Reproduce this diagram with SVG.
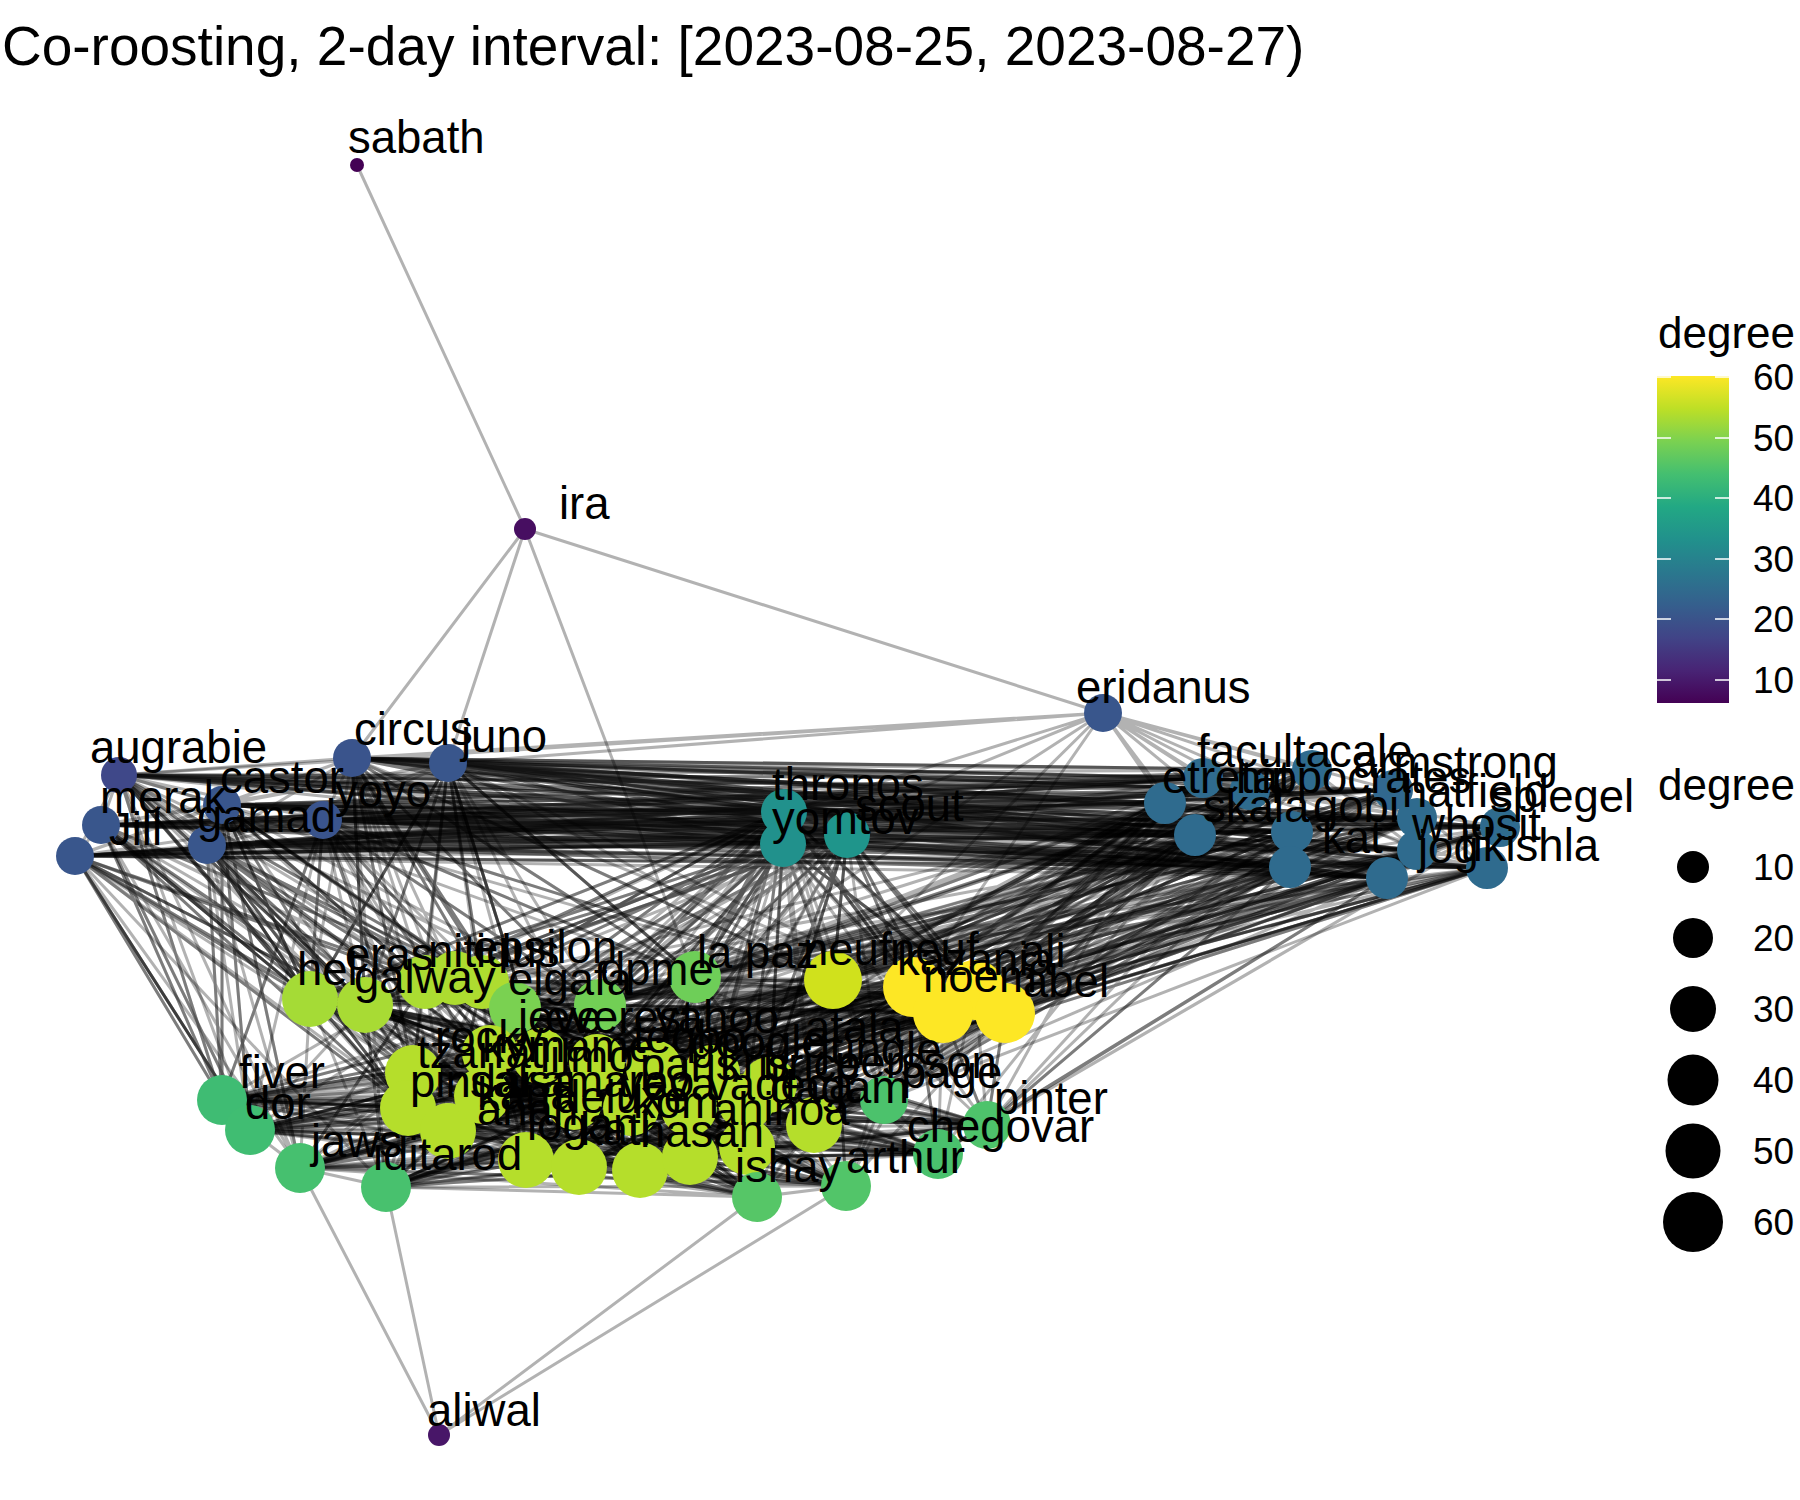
<svg xmlns="http://www.w3.org/2000/svg" width="1800" height="1500" viewBox="0 0 1800 1500">
<defs>
<style>
.e{fill:none;stroke:#000;stroke-opacity:0.3;stroke-width:3;stroke-linejoin:round;stroke-linecap:round}
.l{font-family:"Liberation Sans",Arial,sans-serif;font-size:45.5px;fill:#000}
.t{font-family:"Liberation Sans",Arial,sans-serif;font-size:55px;fill:#000}
.lg{font-family:"Liberation Sans",Arial,sans-serif;font-size:37px;fill:#000}
.lt{font-family:"Liberation Sans",Arial,sans-serif;font-size:44px;fill:#000}
.tick{stroke:#fff;stroke-width:1.6}
</style>
<linearGradient id="vir" x1="0" y1="1" x2="0" y2="0">
<stop offset="0" stop-color="#440154"/><stop offset="0.1" stop-color="#482475"/><stop offset="0.2" stop-color="#414487"/><stop offset="0.3" stop-color="#355F8D"/><stop offset="0.4" stop-color="#2A788E"/><stop offset="0.5" stop-color="#21918C"/><stop offset="0.6" stop-color="#22A884"/><stop offset="0.7" stop-color="#44BF70"/><stop offset="0.8" stop-color="#7AD151"/><stop offset="0.9" stop-color="#BDDF26"/><stop offset="1" stop-color="#FDE725"/>
</linearGradient>
</defs>
<rect width="1800" height="1500" fill="#fff"/>
<text class="t" x="2" y="65">Co-roosting, 2-day interval: [2023-08-25, 2023-08-27)</text>
<g id="connectors">
<path class="e" d="M525 529L357 165M525 529L352 758M525 529L448 763M525 529L695 977"/>
<path class="e" d="M439 1435L300 1168M439 1435L386 1187M439 1435L757 1197M439 1435L846 1186"/>
<path class="e" d="M1103 713L525 529M1103 713L352 758M1103 713L448 763M1103 713L119 775M1103 713L1203 778M1103 713L1165 803M1103 713L1195 835M1103 713L1312 770M1103 713L1250 790M1103 713L1292 832M1103 713L1290 867M1103 713L1393 790M1103 713L1417 818M1103 713L1417 850M1103 713L784 812M1103 713L783 844M1103 713L695 977M1103 713L833 980M1103 713L913 987"/>
<path class="e" d="M310 999L1005 1013 222 1100 833 980 526 1160 913 987 250 1130 695 977 640 1170 943 1013 300 1168 975 990 386 1187 987 1125 413 1073 938 1154 408 1108 846 1186 448 1131 757 1197 365 1005 884 1100 482 1096 814 1125 425 982 747 1147 482 982 690 1157 515 1008 579 1167 600 1005 769 1085 490 1053 746 1102 540 1056 689 1108 597 1062 631 1108 654 1068 574 1102 712 1073"/>
<path class="e" d="M222 1100L913 987 408 1108 833 980 300 1168 975 990 448 1131 943 1013 386 1187 1005 1013 526 1160 695 977 579 1167 987 1125 310 999 938 1154 365 1005 846 1186 425 982 757 1197 482 982 884 1100 515 1008 814 1125 600 1005 747 1147 540 1056 690 1157 490 1053 640 1170 413 1073 769 1085 482 1096 712 1073 597 1062 746 1102 654 1068 689 1108 574 1102 631 1108"/>
<path class="e" d="M250 1130L833 980 413 1073 1005 1013 482 1096 943 1013 579 1167 913 987 690 1157 975 990 310 999 814 1125 365 1005 747 1147 425 982 769 1085 482 982 712 1073 515 1008 746 1102 600 1005 987 1125 222 1100 938 1154 300 1168 846 1186 386 1187 884 1100 408 1108 757 1197 448 1131 695 977 526 1160 654 1068 640 1170 540 1056 574 1102 597 1062 689 1108 490 1053 631 1108"/>
<path class="e" d="M300 1168L833 980 386 1187 913 987 448 1131 943 1013 526 1160 975 990 579 1167 1005 1013 640 1170 987 1125 690 1157 938 1154 747 1147 846 1186 408 1108 757 1197 413 1073 884 1100 222 1100 814 1125 250 1130 769 1085 310 999 746 1102 365 1005 712 1073 425 982 689 1108 482 982 631 1108 515 1008 574 1102 600 1005 597 1062 695 977 654 1068 540 1056 490 1053 482 1096"/>
<path class="e" d="M310 999L526 1160 365 1005 579 1167 425 982 640 1170 482 982 690 1157 515 1008 747 1147 600 1005 814 1125 695 977 222 1100 833 980 250 1130 913 987 300 1168 943 1013 386 1187 975 990 413 1073 1005 1013 408 1108 987 1125 448 1131 938 1154 482 1096 846 1186 490 1053 757 1197 540 1056 884 1100 597 1062 574 1102 654 1068 631 1108 712 1073 689 1108 769 1085 746 1102"/>
<path class="e" d="M222 1100L540 1056 250 1130 597 1062 300 1168 654 1068 386 1187 712 1073 413 1073 769 1085 408 1108 746 1102 448 1131 689 1108 482 1096 631 1108 490 1053 574 1102 310 999 757 1197 365 1005 846 1186 425 982 938 1154 482 982 987 1125 515 1008 884 1100 600 1005 1005 1013 695 977 975 990 833 980 943 1013 526 1160 913 987 579 1167 814 1125 640 1170 747 1147 690 1157"/>
<path class="e" d="M386 1187L757 1197 300 1168 846 1186 250 1130 938 1154 222 1100 987 1125 408 1108 884 1100 448 1131 814 1125 526 1160 747 1147 579 1167 690 1157 640 1170 746 1102 482 1096 769 1085 413 1073 712 1073 490 1053 654 1068 540 1056 689 1108 597 1062 631 1108 574 1102 913 987 310 999 943 1013 365 1005 975 990 425 982 1005 1013 482 982 833 980 515 1008 695 977 600 1005"/>
<path class="e" d="M222 1100L757 1197 250 1130 747 1147 300 1168 690 1157 386 1187 640 1170 408 1108 579 1167 448 1131 846 1186 526 1160 938 1154 482 1096 987 1125 413 1073 884 1100 310 999 814 1125 365 1005 769 1085 425 982 746 1102 482 982 712 1073 515 1008 689 1108 600 1005 654 1068 695 977 631 1108 833 980 574 1102 913 987 597 1062 943 1013 540 1056 975 990 490 1053 1005 1013"/>
<path class="e" d="M913 987L222 1100 943 1013 250 1130 975 990 300 1168 1005 1013 386 1187 833 980 408 1108 695 977 448 1131 600 1005 526 1160 515 1008 579 1167 482 982 640 1170 425 982 690 1157 365 1005 747 1147 310 999 814 1125 413 1073 884 1100 482 1096 987 1125 490 1053 938 1154 540 1056 846 1186 597 1062 757 1197 654 1068 574 1102 712 1073 631 1108 769 1085 689 1108 746 1102"/>
<path class="e" d="M365 1005L386 1187 310 999 300 1168 425 982 448 1131 482 982 526 1160 515 1008 640 1170 600 1005 747 1147 695 977 757 1197 833 980 846 1186 913 987 938 1154 943 1013 987 1125 975 990 884 1100 1005 1013 814 1125 540 1056 408 1108 597 1062 413 1073 654 1068 222 1100 712 1073 250 1130 769 1085 482 1096 574 1102 490 1053 631 1108 579 1167 689 1108 690 1157 746 1102"/>
<path class="e" d="M310 999L365 1005 425 982 482 982 515 1008 600 1005 695 977 833 980 913 987 975 990 943 1013 1005 1013 987 1125 938 1154 884 1100 846 1186 757 1197 747 1147 690 1157 640 1170 579 1167 526 1160 448 1131 386 1187 300 1168 250 1130 222 1100 408 1108 413 1073 482 1096 490 1053 540 1056 597 1062 654 1068 712 1073 769 1085 814 1125 746 1102 689 1108 631 1108 574 1102"/>
<path class="e" d="M413 1073L975 990 408 1108 913 987 448 1131 833 980 482 1096 695 977 526 1160 600 1005 490 1053 515 1008 540 1056 482 982 597 1062 425 982 654 1068 365 1005 712 1073 310 999 769 1085 222 1100 746 1102 250 1130 689 1108 300 1168 631 1108 386 1187 574 1102 757 1197 579 1167 846 1186 640 1170 938 1154 690 1157 987 1125 747 1147 884 1100 814 1125 1005 1013 943 1013"/>
<path class="e" d="M310 999L600 1005 975 990 482 1096 747 1147 712 1073 746 1102 386 1187 884 1100 515 1008 943 1013 448 1131 690 1157 654 1068 689 1108 300 1168 987 1125 482 982 913 987 408 1108 640 1170 597 1062 631 1108 250 1130 938 1154 425 982 833 980 413 1073 579 1167 540 1056 574 1102 222 1100 846 1186 365 1005 695 977 1005 1013 526 1160 814 1125 769 1085 490 1053 757 1197"/>
<path class="e" d="M310 999L833 980 448 1131 814 1125 631 1108 386 1187 365 1005 913 987 482 1096 540 1056 689 1108 757 1197 425 982 943 1013 526 1160 597 1062 746 1102 846 1186 482 982 975 990 579 1167 654 1068 490 1053 938 1154 515 1008 1005 1013 640 1170 712 1073 222 1100 987 1125 600 1005 413 1073 690 1157 769 1085 250 1130 884 1100 695 977 408 1108 747 1147 574 1102 300 1168"/>
<path class="e" d="M310 999L943 1013 640 1170 574 1102 757 1197 515 1008 408 1108 540 1056 490 1053 884 1100 913 987 579 1167 769 1085 386 1187 482 982 413 1073 814 1125 746 1102 987 1125 833 980 526 1160 712 1073 300 1168 425 982 1005 1013 747 1147 689 1108 938 1154 695 977 482 1096 654 1068 250 1130 365 1005 975 990 690 1157 631 1108 846 1186 600 1005 448 1131 597 1062 222 1100"/>
<path class="e" d="M310 999L1005 1013 540 1056 250 1130 482 982 448 1131 712 1073 757 1197 695 977 579 1167 631 1108 987 1125 943 1013 747 1147 490 1053 365 1005 413 1073 597 1062 300 1168 515 1008 482 1096 769 1085 846 1186 833 980 640 1170 689 1108 884 1100 975 990 814 1125 222 1100 425 982 408 1108 654 1068 386 1187 600 1005 526 1160 574 1102 938 1154 913 987 690 1157 746 1102"/>
<path class="e" d="M310 999L408 1108 769 1085 987 1125 1005 1013 654 1068 846 1186 943 1013 540 1056 386 1187 833 980 747 1147 250 1130 600 1005 640 1170 490 1053 482 982 526 1160 689 1108 365 1005 448 1131 574 1102 884 1100 413 1073 712 1073 938 1154 975 990 597 1062 757 1197 913 987 814 1125 300 1168 695 977 690 1157 222 1100 515 1008 579 1167 746 1102 425 982 482 1096 631 1108"/>
<path class="e" d="M310 999L482 1096 746 1102 515 1008 690 1157 300 1168 913 987 597 1062 938 1154 413 1073 574 1102 365 1005 526 1160 490 1053 600 1005 747 1147 386 1187 943 1013 654 1068 987 1125 408 1108 631 1108 425 982 579 1167 222 1100 695 977 814 1125 757 1197 975 990 712 1073 884 1100 448 1131 689 1108 482 982 640 1170 250 1130 833 980 540 1056 846 1186 1005 1013 769 1085"/>
<path class="e" d="M310 999L579 1167 300 1168 975 990 574 1102 482 982 747 1147 846 1186 408 1108 746 1102 695 977 597 1062 884 1100 526 1160 250 1130 943 1013 769 1085 425 982 690 1157 757 1197 413 1073 689 1108 600 1005 540 1056 987 1125 482 1096 222 1100 913 987 712 1073 365 1005 640 1170 386 1187 1005 1013 631 1108 515 1008 814 1125 938 1154 448 1131 490 1053 833 980 654 1068"/>
<path class="e" d="M310 999L690 1157 938 1154 526 1160 386 1187 408 1108 222 1100 975 990 689 1108 833 980 769 1085 515 1008 597 1062 365 1005 747 1147 987 1125 579 1167 757 1197 448 1131 250 1130 1005 1013 746 1102 913 987 574 1102 600 1005 654 1068 425 982 814 1125 884 1100 640 1170 846 1186 482 1096 300 1168 413 1073 490 1053 943 1013 631 1108 695 977 712 1073 482 982 540 1056"/>
<path class="e" d="M119 775L1203 778 101 825 1165 803 75 856 1195 835 222 805 1312 770 207 845 1250 790 352 758 1292 832 448 763 1290 867 323 820 1393 790 119 775 1417 818 101 825 1417 850 75 856 1387 878 222 805 1500 827 207 845 1487 868 352 758 784 812 448 763 783 844 323 820 847 835"/>
<path class="e" d="M75 856L1203 778 207 845 1165 803 323 820 1195 835 119 775 1312 770 352 758 1250 790 101 825 1292 832 448 763 1290 867 222 805 1393 790 75 856 1417 818 207 845 1417 850 323 820 1387 878 119 775 1500 827 352 758 1487 868 101 825 784 812 222 805 783 844 448 763 847 835"/>
<path class="e" d="M352 758L1165 803 119 775 1195 835 448 763 1203 778 101 825 1312 770 323 820 1292 832 75 856 1250 790 222 805 1290 867 207 845 1417 818 352 758 1393 790 119 775 1417 850 448 763 1387 878 101 825 1487 868 323 820 1500 827 75 856 784 812 222 805 847 835 207 845 783 844"/>
<path class="e" d="M323 820L1203 778 222 805 1165 803 448 763 1195 835 75 856 1292 832 119 775 1290 867 101 825 1312 770 352 758 1250 790 207 845 1393 790 323 820 1417 850 222 805 1417 818 448 763 1487 868 75 856 1500 827 119 775 1387 878 101 825 783 844 352 758 847 835 207 845 784 812"/>
<path class="e" d="M101 825L1195 835 207 845 1203 778 352 758 1165 803 448 763 1250 790 119 775 1292 832 323 820 1312 770 75 856 1290 867 222 805 1417 818 101 825 1393 790 207 845 1387 878 352 758 1417 850 448 763 1500 827 119 775 1487 868 323 820 784 812 75 856 783 844 222 805 847 835"/>
<path class="e" d="M448 763L1165 803 352 758 1195 835 323 820 1203 778 448 763 1292 832 352 758 1290 867 323 820 1250 790 448 763 1312 770 352 758 1393 790 323 820 1417 818 448 763 1417 850 352 758 1387 878 323 820 1500 827 448 763 1487 868 352 758 1203 778 323 820 1165 803"/>
<path class="e" d="M207 845L1165 803 222 805 1195 835 75 856 1203 778 101 825 1292 832 119 775 1290 867 207 845 1250 790 222 805 1312 770 75 856 1393 790 101 825 1417 818 119 775 1417 850 207 845 1387 878 222 805 1500 827 75 856 1487 868 101 825 1165 803 119 775 1195 835"/>
<path class="e" d="M222 805L1290 867 207 845 1292 832 323 820 1195 835 448 763 1165 803 352 758 1203 778 119 775 1250 790 101 825 1312 770 75 856 1393 790 207 845 1417 818 323 820 1417 850 448 763 1387 878 352 758 1500 827 222 805 1487 868 207 845 1195 835 323 820 1290 867"/>
<path class="e" d="M119 775L784 812 101 825 783 844 75 856 847 835 222 805 784 812 207 845 783 844 352 758 847 835 448 763 784 812 323 820 783 844 119 775 847 835 207 845 784 812 75 856 783 844 352 758 784 812"/>
<path class="e" d="M119 775L310 999 101 825 365 1005 75 856 222 1100 222 805 425 982 207 845 413 1073 352 758 482 982 448 763 515 1008 323 820 600 1005 119 775 408 1108 101 825 250 1130 75 856 300 1168 222 805 310 999 207 845 365 1005 352 758 695 977 448 763 833 980 323 820 490 1053 119 775 425 982"/>
<path class="e" d="M75 856L310 999 207 845 365 1005 323 820 425 982 448 763 482 982 352 758 515 1008 222 805 413 1073 101 825 222 1100 119 775 250 1130 75 856 408 1108 207 845 490 1053 323 820 540 1056 448 763 600 1005 352 758 695 977 222 805 310 999 101 825 482 982 119 775 482 1096 75 856 448 1131"/>
<path class="e" d="M222 805L222 1100 207 845 250 1130 323 820 310 999 448 763 365 1005 352 758 413 1073 119 775 482 982 101 825 425 982 75 856 515 1008 222 805 408 1108 207 845 310 999 323 820 540 1056 448 763 913 987 352 758 833 980 119 775 597 1062 101 825 482 1096 75 856 365 1005 207 845 425 982"/>
<path class="e" d="M101 825L310 999 119 775 365 1005 75 856 425 982 222 805 482 982 207 845 515 1008 352 758 310 999 448 763 413 1073 323 820 222 1100 101 825 490 1053 119 775 408 1108 75 856 250 1130 222 805 300 1168 207 845 482 1096 352 758 540 1056 448 763 695 977 323 820 600 1005"/>
<path class="e" d="M323 820L310 999 448 763 365 1005 352 758 425 982 222 805 482 982 207 845 515 1008 75 856 310 999 101 825 365 1005 119 775 222 1100 323 820 413 1073 448 763 490 1053 352 758 600 1005 222 805 408 1108 207 845 222 1100 75 856 250 1130 101 825 300 1168 119 775 310 999"/>
<path class="e" d="M448 763L695 977 323 820 833 980 352 758 540 1056 448 763 597 1062 222 805 490 1053 207 845 482 1096 323 820 448 1131 352 758 386 1187 75 856 413 1073 101 825 408 1108 119 775 365 1005 207 845 310 999 222 805 250 1130"/>
<path class="e" d="M1203 778L833 980 1165 803 913 987 1195 835 943 1013 1312 770 975 990 1250 790 1005 1013 1292 832 695 977 1290 867 600 1005 1393 790 833 980 1417 818 913 987 1417 850 943 1013 1387 878 975 990 1500 827 1005 1013 1487 868 833 980 1203 778 769 1085 1165 803 712 1073 1195 835 654 1068"/>
<path class="e" d="M1165 803L833 980 1195 835 695 977 1292 832 913 987 1290 867 975 990 1387 878 1005 1013 1487 868 943 1013 1417 850 833 980 1417 818 913 987 1393 790 975 990 1312 770 943 1013 1203 778 1005 1013 1250 790 695 977 1165 803 746 1102 1195 835 814 1125 1292 832 884 1100 1290 867 987 1125 1387 878 938 1154"/>
<path class="e" d="M1195 835L833 980 1290 867 943 1013 1387 878 913 987 1417 850 1005 1013 1487 868 975 990 1500 827 833 980 1417 818 695 977 1393 790 600 1005 1312 770 597 1062 1250 790 482 982 1292 832 515 1008 1165 803 654 1068 1203 778 712 1073 1195 835 769 1085 1290 867 814 1125 1387 878 746 1102 1487 868 884 1100"/>
<path class="e" d="M1292 832L913 987 1165 803 975 990 1203 778 833 980 1195 835 1005 1013 1290 867 943 1013 1387 878 695 977 1417 850 712 1073 1487 868 769 1085 1417 818 913 987 1393 790 833 980 1312 770 975 990 1500 827 943 1013 1250 790 600 1005 1292 832 654 1068 1165 803 689 1108 1195 835 597 1062 1290 867 987 1125"/>
<path class="e" d="M1487 868L913 987 1500 827 975 990 1417 850 1005 1013 1417 818 943 1013 1393 790 833 980 1312 770 695 977 1292 832 913 987 1290 867 943 1013 1387 878 1005 1013 1195 835 975 990 1165 803 833 980 1203 778 913 987 1250 790 943 1013 1487 868 695 977 1387 878 833 980 1417 850 975 990"/>
<path class="e" d="M1290 867L884 1100 1292 832 987 1125 1387 878 938 1154 1195 835 814 1125 1165 803 769 1085 1203 778 746 1102 1250 790 712 1073 1312 770 654 1068 1393 790 597 1062 1417 818 600 1005 1417 850 515 1008 1487 868 482 982 1500 827 689 1108 1195 835 884 1100 1165 803 987 1125"/>
<path class="e" d="M1165 803L943 1013 1195 835 913 987 1292 832 975 990 1290 867 1005 1013 1387 878 833 980 1417 850 913 987 1487 868 943 1013 1203 778 975 990 1250 790 833 980 1312 770 1005 1013 1393 790 695 977 1417 818 975 990 1500 827 913 987"/>
<path class="e" d="M1203 778L695 977 1165 803 600 1005 1195 835 540 1056 1292 832 597 1062 1290 867 654 1068 1387 878 712 1073 1417 850 769 1085 1487 868 746 1102 1417 818 814 1125 1393 790 884 1100 1312 770 987 1125 1500 827 938 1154"/>
<path class="e" d="M784 812L310 999 783 844 365 1005 847 835 425 982 784 812 482 982 783 844 515 1008 847 835 600 1005 784 812 695 977 783 844 833 980 847 835 913 987 784 812 943 1013 783 844 975 990 847 835 1005 1013 784 812 540 1056 783 844 597 1062 847 835 654 1068 784 812 712 1073 783 844 769 1085 847 835 746 1102 784 812 814 1125 783 844 413 1073 847 835 490 1053"/>
<path class="e" d="M783 844L310 999 847 835 365 1005 784 812 482 982 783 844 425 982 847 835 515 1008 784 812 600 1005 783 844 695 977 847 835 833 980 784 812 913 987 783 844 975 990 847 835 943 1013 784 812 1005 1013 783 844 654 1068 847 835 769 1085 784 812 597 1062 783 844 574 1102 847 835 689 1108 784 812 482 1096 783 844 631 1108 847 835 884 1100"/>
<path class="e" d="M847 835L310 999 784 812 365 1005 783 844 425 982 847 835 482 982 784 812 515 1008 783 844 600 1005 847 835 540 1056 784 812 490 1053 783 844 597 1062 847 835 712 1073 784 812 654 1068 783 844 769 1085 847 835 746 1102 784 812 695 977 783 844 833 980 847 835 913 987 784 812 975 990 783 844 943 1013 847 835 1005 1013 784 812 884 1100 783 844 987 1125"/>
<path class="e" d="M784 812L1203 778 783 844 1165 803 847 835 1195 835 784 812 1312 770 783 844 1250 790 847 835 1292 832 784 812 1290 867 783 844 1393 790 847 835 1417 818 784 812 1417 850 783 844 1387 878 847 835 1500 827 784 812 1487 868 783 844 1203 778 847 835 1165 803 784 812 1195 835 783 844 1312 770 847 835 1250 790"/>
<path class="e" d="M1203 778L1165 803 1195 835 1312 770 1250 790 1292 832 1290 867 1393 790 1417 818 1417 850 1387 878 1500 827 1487 868 1203 778 1292 832 1393 790 1487 868 1165 803 1250 790 1417 818 1387 878 1195 835 1290 867 1312 770 1417 850 1500 827 1203 778 1417 818 1195 835 1387 878 1165 803 1393 790 1487 868 1292 832 1312 770"/>
<path class="e" d="M119 775L101 825 75 856 222 805 207 845 352 758 448 763 323 820 119 775 75 856 207 845 448 763 101 825 222 805 352 758 323 820 75 856 352 758 119 775 207 845 323 820 101 825 448 763 222 805 119 775"/>
<path class="e" d="M784 812L783 844 847 835 784 812"/>
</g>
<g id="nodes">
<g id="node-sabath"><circle cx="357" cy="165" r="7" fill="#440154"/></g>
<g id="node-ira"><circle cx="525" cy="529" r="11" fill="#470E61"/></g>
<g id="node-aliwal"><circle cx="439" cy="1435" r="11" fill="#481668"/></g>
<g id="node-eridanus"><circle cx="1103" cy="713" r="19" fill="#39568C"/></g>
<g id="node-augrabie"><circle cx="119" cy="775" r="18" fill="#3F4889"/></g>
<g id="node-merak"><circle cx="101" cy="825" r="19" fill="#39568C"/></g>
<g id="node-jill"><circle cx="75" cy="856" r="19" fill="#39568C"/></g>
<g id="node-castor"><circle cx="222" cy="805" r="19" fill="#39568C"/></g>
<g id="node-gamad"><circle cx="207" cy="845" r="19" fill="#39568C"/></g>
<g id="node-circus"><circle cx="352" cy="758" r="19" fill="#3A548C"/></g>
<g id="node-juno"><circle cx="448" cy="763" r="19" fill="#39568C"/></g>
<g id="node-yoyo"><circle cx="323" cy="820" r="19" fill="#3A548C"/></g>
<g id="node-thronos"><circle cx="784" cy="812" r="23" fill="#21918C"/></g>
<g id="node-yomtov"><circle cx="783" cy="844" r="23" fill="#21918C"/></g>
<g id="node-scout"><circle cx="847" cy="835" r="23" fill="#1F958B"/></g>
<g id="node-faculta"><circle cx="1203" cy="778" r="20" fill="#2F6B8E"/></g>
<g id="node-etretat"><circle cx="1165" cy="803" r="21" fill="#2F6B8E"/></g>
<g id="node-skala"><circle cx="1195" cy="835" r="21" fill="#2F6B8E"/></g>
<g id="node-cale"><circle cx="1312" cy="770" r="20" fill="#2F6B8E"/></g>
<g id="node-hippocrates"><circle cx="1250" cy="790" r="20" fill="#2F6B8E"/></g>
<g id="node-gobi"><circle cx="1292" cy="832" r="21" fill="#2F6B8E"/></g>
<g id="node-kat"><circle cx="1290" cy="867" r="21" fill="#2F6B8E"/></g>
<g id="node-armstrong"><circle cx="1393" cy="790" r="20" fill="#31688E"/></g>
<g id="node-hatfield"><circle cx="1417" cy="818" r="20" fill="#2F6B8E"/></g>
<g id="node-whosit"><circle cx="1417" cy="850" r="20" fill="#2F6B8E"/></g>
<g id="node-jog"><circle cx="1387" cy="878" r="21" fill="#2F6B8E"/></g>
<g id="node-spiegel"><circle cx="1500" cy="827" r="20" fill="#2F6B8E"/></g>
<g id="node-tikishla"><circle cx="1487" cy="868" r="21" fill="#2F6B8E"/></g>
<g id="node-hel"><circle cx="310" cy="999" r="28" fill="#A5DB36"/></g>
<g id="node-galway"><circle cx="365" cy="1005" r="28" fill="#A8DB34"/></g>
<g id="node-eras"><circle cx="425" cy="982" r="27" fill="#ABDC32"/></g>
<g id="node-epsilon"><circle cx="455" cy="978" r="27" fill="#ADDC30"/></g>
<g id="node-nitidus"><circle cx="482" cy="982" r="27" fill="#AEDC30"/></g>
<g id="node-elgafa"><circle cx="515" cy="1008" r="26" fill="#7AD151"/></g>
<g id="node-dpme"><circle cx="600" cy="1005" r="26" fill="#72CF55"/></g>
<g id="node-lapaz"><circle cx="695" cy="977" r="26" fill="#6ECE58"/></g>
<g id="node-neuf"><circle cx="833" cy="980" r="29" fill="#D0E11C"/></g>
<g id="node-neuf2"><circle cx="913" cy="987" r="30" fill="#FDE725"/></g>
<g id="node-kazania"><circle cx="975" cy="990" r="30" fill="#FDE725"/></g>
<g id="node-noem"><circle cx="943" cy="1013" r="30" fill="#FDE725"/></g>
<g id="node-abel"><circle cx="1005" cy="1013" r="30" fill="#FDE725"/></g>
<g id="node-m1"><circle cx="413" cy="1073" r="28" fill="#B5DE2B"/></g>
<g id="node-m2"><circle cx="408" cy="1108" r="28" fill="#B5DE2B"/></g>
<g id="node-m3"><circle cx="448" cy="1131" r="28" fill="#B5DE2B"/></g>
<g id="node-m4"><circle cx="482" cy="1096" r="28" fill="#B5DE2B"/></g>
<g id="node-m5"><circle cx="526" cy="1160" r="28" fill="#B5DE2B"/></g>
<g id="node-m6"><circle cx="579" cy="1167" r="28" fill="#B5DE2B"/></g>
<g id="node-m7"><circle cx="640" cy="1170" r="28" fill="#B5DE2B"/></g>
<g id="node-m8"><circle cx="690" cy="1157" r="28" fill="#B5DE2B"/></g>
<g id="node-m9"><circle cx="747" cy="1147" r="28" fill="#B5DE2B"/></g>
<g id="node-m10"><circle cx="814" cy="1125" r="28" fill="#B5DE2B"/></g>
<g id="node-m11"><circle cx="540" cy="1056" r="28" fill="#B5DE2B"/></g>
<g id="node-m12"><circle cx="597" cy="1062" r="28" fill="#B5DE2B"/></g>
<g id="node-m13"><circle cx="654" cy="1068" r="28" fill="#B5DE2B"/></g>
<g id="node-m14"><circle cx="712" cy="1073" r="28" fill="#B5DE2B"/></g>
<g id="node-m15"><circle cx="769" cy="1085" r="28" fill="#B5DE2B"/></g>
<g id="node-m16"><circle cx="574" cy="1102" r="28" fill="#B5DE2B"/></g>
<g id="node-m17"><circle cx="631" cy="1108" r="28" fill="#B5DE2B"/></g>
<g id="node-m18"><circle cx="689" cy="1108" r="28" fill="#B5DE2B"/></g>
<g id="node-m19"><circle cx="746" cy="1102" r="28" fill="#B5DE2B"/></g>
<g id="node-m20"><circle cx="490" cy="1053" r="28" fill="#B5DE2B"/></g>
<g id="node-fiver"><circle cx="222" cy="1100" r="25" fill="#3FBC73"/></g>
<g id="node-dor"><circle cx="250" cy="1130" r="25" fill="#40BD72"/></g>
<g id="node-jaws"><circle cx="300" cy="1168" r="25" fill="#46C06F"/></g>
<g id="node-iditarod"><circle cx="386" cy="1187" r="25" fill="#48C16E"/></g>
<g id="node-ishay"><circle cx="757" cy="1197" r="25" fill="#56C667"/></g>
<g id="node-arthur"><circle cx="846" cy="1186" r="25" fill="#52C569"/></g>
<g id="node-chegovar"><circle cx="938" cy="1154" r="25" fill="#4AC16D"/></g>
<g id="node-pinter"><circle cx="987" cy="1125" r="24" fill="#4EC36B"/></g>
<g id="node-dagam"><circle cx="884" cy="1100" r="24" fill="#4CC26C"/></g>
</g>
<g id="labels" class="l">
<text x="348" y="153">sabath</text>
<text x="559" y="519">ira</text>
<text x="427" y="1426">aliwal</text>
<text x="1076" y="703">eridanus</text>
<text x="90" y="763">augrabie</text>
<text x="100" y="813">merak</text>
<text x="109" y="845">Jill</text>
<text x="220" y="793">castor</text>
<text x="197" y="832">gamad</text>
<text x="354" y="745">circus</text>
<text x="461" y="752">juno</text>
<text x="335" y="807">yoyo</text>
<text x="772" y="800">thronos</text>
<text x="772" y="834">yomtov</text>
<text x="855" y="821">scout</text>
<text x="1197" y="767">faculta</text>
<text x="1329" y="767">cale</text>
<text x="1353" y="778">armstrong</text>
<text x="1162" y="793">etretat</text>
<text x="1236" y="793">hippocrates</text>
<text x="1402" y="807">hatfield</text>
<text x="1490" y="812">spiegel</text>
<text x="1203" y="822">skala</text>
<text x="1313" y="822">gobi</text>
<text x="1412" y="840">whosit</text>
<text x="1322" y="853">kat</text>
<text x="1418" y="863">jog</text>
<text x="1460" y="861">tikishla</text>
<text x="297" y="985">hel</text>
<text x="354" y="993">galway</text>
<text x="345" y="970">eras</text>
<text x="428" y="967">nitidus</text>
<text x="473" y="963">epsilon</text>
<text x="508" y="995">elgafa</text>
<text x="600" y="985">dpme</text>
<text x="697" y="968">la paz</text>
<text x="803" y="965">neuf</text>
<text x="890" y="965">neuf</text>
<text x="897" y="975">kazania</text>
<text x="1020" y="967">ali</text>
<text x="923" y="992">noem</text>
<text x="1023" y="997">abel</text>
<text x="518" y="1033">jeve</text>
<text x="545" y="1033">everest</text>
<text x="655" y="1033">yahoo</text>
<text x="805" y="1043">atala</text>
<text x="435" y="1053">rocky</text>
<text x="633" y="1053">teqbo</text>
<text x="482" y="1062">kymame</text>
<text x="690" y="1058">google</text>
<text x="820" y="1065">jungle</text>
<text x="417" y="1068">tzarfat</text>
<text x="540" y="1072">lilmo</text>
<text x="640" y="1080">paris</text>
<text x="720" y="1080">kris</text>
<text x="763" y="1080">brice</text>
<text x="835" y="1078">persson</text>
<text x="901" y="1088">page</text>
<text x="410" y="1097">pindar</text>
<text x="470" y="1097">salsa</text>
<text x="540" y="1097">amarao</text>
<text x="620" y="1100">yeva</text>
<text x="707" y="1100">vadeca</text>
<text x="770" y="1103">dagam</text>
<text x="477" y="1110">kana</text>
<text x="555" y="1113">deluxe</text>
<text x="633" y="1118">kom</text>
<text x="713" y="1125">ahinoa</text>
<text x="477" y="1125">anah</text>
<text x="527" y="1140">logan</text>
<text x="580" y="1145">kati</text>
<text x="640" y="1147">hasan</text>
<text x="239" y="1088">fiver</text>
<text x="245" y="1119">dor</text>
<text x="311" y="1157">jaws</text>
<text x="373" y="1170">iditarod</text>
<text x="735" y="1182">ishay</text>
<text x="846" y="1173">arthur</text>
<text x="907" y="1142">chegovar</text>
<text x="994" y="1114">pinter</text>
</g>
<g id="legend-colour">
<text class="lt" x="1658" y="348">degree</text>
<rect x="1657" y="376" width="72" height="327" fill="url(#vir)"/>
<path class="tick" d="M1657 377h14M1715 377h14M1657 438h14M1715 438h14M1657 498h14M1715 498h14M1657 559h14M1715 559h14M1657 619h14M1715 619h14M1657 680h14M1715 680h14"/>
<text class="lg" x="1753" y="390">60</text>
<text class="lg" x="1753" y="451">50</text>
<text class="lg" x="1753" y="511">40</text>
<text class="lg" x="1753" y="572">30</text>
<text class="lg" x="1753" y="632">20</text>
<text class="lg" x="1753" y="693">10</text>
</g>
<g id="legend-size">
<text class="lt" x="1658" y="800">degree</text>
<circle cx="1693" cy="867" r="16"/>
<circle cx="1693" cy="938" r="20"/>
<circle cx="1693" cy="1009" r="23"/>
<circle cx="1693" cy="1080" r="25.5"/>
<circle cx="1693" cy="1151" r="27.5"/>
<circle cx="1693" cy="1222" r="30"/>
<text class="lg" x="1753" y="880">10</text>
<text class="lg" x="1753" y="951">20</text>
<text class="lg" x="1753" y="1022">30</text>
<text class="lg" x="1753" y="1093">40</text>
<text class="lg" x="1753" y="1164">50</text>
<text class="lg" x="1753" y="1235">60</text>
</g>
</svg>
